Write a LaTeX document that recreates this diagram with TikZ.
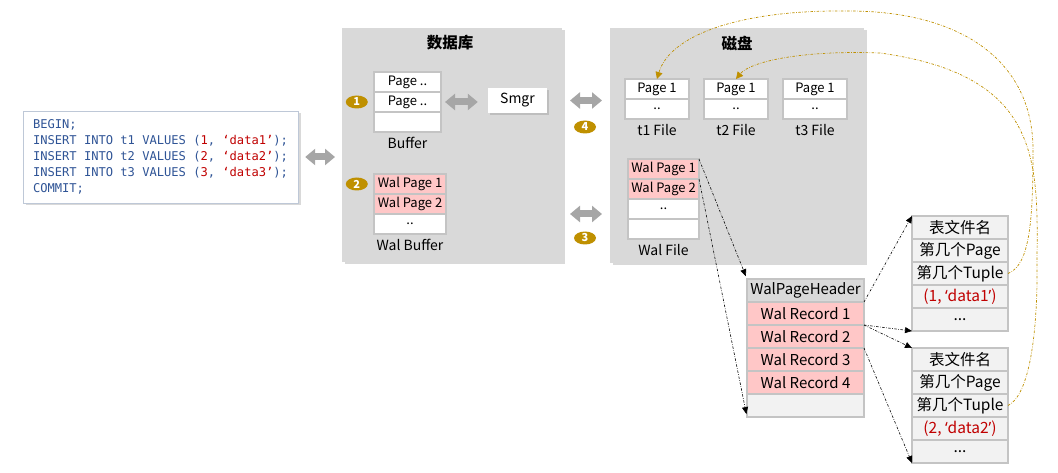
\documentclass[tikz,border=0pt]{standalone}
\usepackage{fontspec}
\setmainfont{Noto Sans CJK SC}
\newfontfamily\codefont{DejaVu Sans Mono}
\newfontfamily\latinfont{Noto Sans}
\usetikzlibrary{arrows.meta,positioning,shapes.geometric,shadows}
\definecolor{panelgray}{RGB}{217,217,217}
\definecolor{cellline}{RGB}{196,196,196}
\definecolor{cellpink}{RGB}{255,199,199}
\definecolor{celllight}{RGB}{242,242,242}
\definecolor{gold}{RGB}{191,144,0}
\definecolor{sqlblue}{RGB}{47,84,150}
\definecolor{sqlred}{RGB}{192,0,0}
\definecolor{sqlline}{RGB}{190,200,215}
\definecolor{arrowgray}{RGB}{166,166,166}
\def\val#1{\textcolor{sqlred}{#1}}
\def\q#1{{\latinfont ‘}#1{\latinfont ’}}
\def\fs#1{\fontsize{#1}{#1}\selectfont}

\begin{document}
\begin{tikzpicture}[x=1pt,y=-1pt,
    panel/.style={fill=panelgray,inner sep=0pt,outer sep=0pt,
        drop shadow={shadow xshift=2.5pt,shadow yshift=-2.5pt,opacity=.3}},
    title/.style={font=\fs{15.5}\bfseries},
    cell/.style={draw=cellline,line width=1.2pt,fill=white,inner sep=0pt,
        outer sep=0pt,minimum height=20,font=\fs{13}},
    pinkcell/.style={cell,fill=cellpink},
    rec/.style={cell,minimum width=117,minimum height=23,fill=cellpink,font=\fs{15}},
    tab/.style={cell,minimum width=96,minimum height=23,fill=celllight,font=\fs{15.5}},
    lbl/.style={inner sep=1pt,font=\fs{14}},
    badge/.style={ellipse,fill=gold,minimum width=22,minimum height=13,
        inner sep=0pt,text=white,font=\fs{11}\bfseries},
    dblarrow/.style={{Triangle[width=16pt,length=10pt]}-{Triangle[width=16pt,length=10pt]},
        line width=7pt,draw=arrowgray},
    link/.style={-{Triangle[width=6pt,length=7pt]},line width=.6pt,
        dash pattern=on 2.5pt off 1.5pt on .6pt off 1.5pt},
    backlink/.style={-{Triangle[width=7pt,length=7pt]},draw=gold,line width=.7pt,
        dash pattern=on 2.5pt off 1.5pt on .6pt off 1.5pt}]

\useasboundingbox (0,0) rectangle (1058,473);

\node[draw=sqlline,fill=white,minimum width=275,minimum height=92,
    align=left,text=sqlblue,font=\codefont\fontsize{12.1}{16}\selectfont,
    drop shadow={shadow xshift=2.5pt,shadow yshift=-2.5pt,opacity=.3}]
    (sql) at (160.5,157) {BEGIN;\\
    INSERT INTO t1 VALUES (\val{1}, \val{‘data1’});\\
    INSERT INTO t2 VALUES (\val{2}, \val{‘data2’});\\
    INSERT INTO t3 VALUES (\val{3}, \val{‘data3’});\\
    COMMIT;};

\node[panel,minimum width=220,minimum height=234] (db) at (452,145) {};
\node[title] (dbtitle) at (450,43) {数据库};
\node[cell,minimum width=67] (buf1) at (407.5,82) {Page ..};
\node[cell,minimum width=67,below=0pt of buf1] (buf2) {Page ..};
\node[cell,minimum width=67,below=0pt of buf2] (buf3) {};
\node[lbl,below=4pt of buf3] (buflbl) {Buffer};
\node[badge,left=6pt of buf2] (b1) {1};
\node[fill=white,minimum width=59,minimum height=25,inner sep=0pt,font=\fs{14},
    drop shadow={shadow xshift=2pt,shadow yshift=-2pt,opacity=.3}]
    (smgr) at (517.5,100.5) {Smgr};
\node[pinkcell,minimum width=72] (wb1) at (410,184) {Wal Page 1};
\node[pinkcell,minimum width=72,below=0pt of wb1] (wb2) {Wal Page 2};
\node[cell,minimum width=72,below=0pt of wb2] (wb3) {..};
\node[lbl,below=4pt of wb3] (wblbl) {Wal Buffer};
\node[badge,left=6pt of wb1] (b2) {2};

\node[panel,minimum width=254,minimum height=235] (disk) at (737,145.5) {};
\node[title] (disktitle) at (737,43) {磁盘};
\node[cell,minimum width=64] (fa1) at (657,89) {Page 1};
\node[cell,minimum width=64,below=0pt of fa1] (fa2) {..};
\node[lbl,below=4pt of fa2] (falbl) {t1 File};
\node[cell,minimum width=64,right=15pt of fa1] (fb1) {Page 1};
\node[cell,minimum width=64,below=0pt of fb1] (fb2) {..};
\node[lbl,below=4pt of fb2] (fblbl) {t2 File};
\node[cell,minimum width=64,right=15pt of fb1] (fc1) {Page 1};
\node[cell,minimum width=64,below=0pt of fc1] (fc2) {..};
\node[lbl,below=4pt of fc2] (fclbl) {t3 File};
\node[pinkcell,minimum width=71] (wf1) at (663.5,169) {Wal Page 1};
\node[pinkcell,minimum width=71,below=0pt of wf1] (wf2) {Wal Page 2};
\node[cell,minimum width=71,below=0pt of wf2] (wf3) {..};
\node[cell,minimum width=71,below=0pt of wf3] (wf4) {};
\node[lbl,below=4pt of wf4] (wflbl) {Wal File};

\node[badge] (b4) at (585,127) {4};
\node[badge] (b3) at (585,238) {3};

\draw[dblarrow,shorten <=7pt,shorten >=7pt] (sql.east) -- (sql.east -| db.west);
\draw[dblarrow,shorten <=4pt,shorten >=10pt] (buf2.east) -- (buf2.east -| smgr.west);
\draw[dblarrow,shorten <=8pt,shorten >=8pt] (smgr.east -| db.east) -- (smgr.east -| disk.west);
\draw[dblarrow,shorten <=8pt,shorten >=8pt] (wb2.south -| db.east) -- (wb2.south -| disk.west);

\node[rec,fill=panelgray] (hdr) at (805.5,290.5) {WalPageHeader};
\node[rec,below=0pt of hdr] (r1) {Wal Record 1};
\node[rec,below=0pt of r1] (r2) {Wal Record 2};
\node[rec,below=0pt of r2] (r3) {Wal Record 3};
\node[rec,below=0pt of r3] (r4) {Wal Record 4};
\node[rec,fill=celllight,below=0pt of r4] (r5) {};

\node[tab] (ta1) at (960,227.5) {表文件名};
\node[tab,below=0pt of ta1] (ta2) {第几个Page};
\node[tab,below=0pt of ta2] (ta3) {第几个Tuple};
\node[tab,below=0pt of ta3,text=sqlred] (ta4) {(1, \q{data1})};
\node[tab,below=0pt of ta4] (ta5) {...};
\node[tab] (tb1) at (960,359.5) {表文件名};
\node[tab,below=0pt of tb1] (tb2) {第几个Page};
\node[tab,below=0pt of tb2] (tb3) {第几个Tuple};
\node[tab,below=0pt of tb3,text=sqlred] (tb4) {(2, \q{data2})};
\node[tab,below=0pt of tb4] (tb5) {...};

\path[link]
    (wf1.north east) edge[shorten >=3pt] (hdr.north west)
    (wf2.north east) edge[shorten >=3pt] (r5.south west)
    (hdr.south east) edge (ta1.north west)
    (r1.south east) edge (ta5.south west)
    (r1.south east) edge (tb1.north west)
    (r2.south east) edge (tb5.south west);

\draw[backlink] (ta3.east) .. controls (1030,265) and (1033,220) .. (1033,150)
    .. controls (1033,60) and (960,10) .. (845,11)
    .. controls (740,10) and (670,35) .. (fa1.north);
\draw[backlink] (tb3.east) .. controls (1030,395) and (1038,330) .. (1037,260)
    .. controls (1038,160) and (1040,75) .. (880,53)
    .. controls (800,50) and (750,62) .. (fb1.north);
\end{tikzpicture}
\end{document}
